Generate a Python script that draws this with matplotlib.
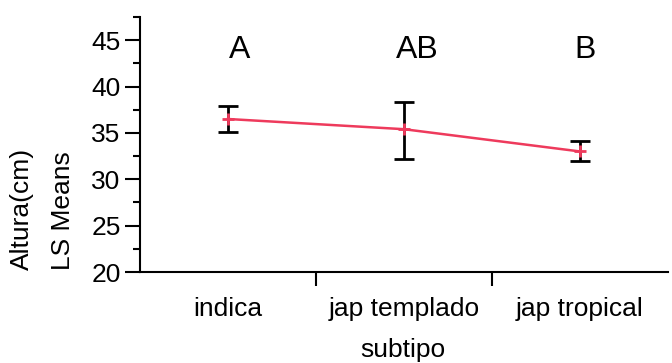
import matplotlib
matplotlib.use("Agg")
import matplotlib.pyplot as plt
from matplotlib.ticker import MultipleLocator

plt.rcParams['font.family'] = ['Liberation Sans', 'DejaVu Sans']

# data
subtipos = ["indica", "jap templado", "jap tropical"]
means = [36.5, 35.4, 33.0]
upper = [37.9, 38.35, 34.1]
lower = [35.1, 32.2, 32.0]
letters = ["A", "AB", "B"]
y_ticks = [20, 25, 30, 35, 40, 45]

xpos = [i + 0.5 for i in range(len(subtipos))]
err_lo = [m - l for m, l in zip(means, lower)]
err_hi = [u - m for m, u in zip(means, upper)]

fig = plt.figure(figsize=(6.72, 3.63), dpi=100)
ax = fig.add_axes([140 / 672, 91 / 363, 528 / 672, 255 / 363])

ax.errorbar(xpos, means, yerr=[err_lo, err_hi], fmt='none', ecolor='black',
            elinewidth=2, capsize=7, capthick=2, zorder=2)
ax.plot(xpos, means, color='#ee3a5c', lw=1.8, marker='+', ms=9, mew=2, zorder=3)

# letters of the mean comparison
letter_x = [0.565, 1.575, 2.53]
for lx, t in zip(letter_x, letters):
    ax.text(lx, 43.9, t, ha='center', va='center', fontsize=23)

ax.set_xlim(0, 3)
ax.set_ylim(20, 47.5)
ax.set_xticks([1, 2])
ax.set_xticklabels([])
ax.set_xticks(xpos, minor=True)
ax.set_xticklabels(subtipos, minor=True, fontsize=19)
ax.tick_params(axis='x', which='minor', length=0, pad=18)
ax.tick_params(axis='x', which='major', length=10, width=1.5, direction='out')

ax.set_yticks(y_ticks)
ax.yaxis.set_minor_locator(MultipleLocator(2.5))
ax.tick_params(axis='y', which='major', length=11, width=1.5, labelsize=19, pad=3)
ax.tick_params(axis='y', which='minor', length=5, width=1.5)

for s in ['top', 'right']:
    ax.spines[s].set_visible(False)
for s in ['left', 'bottom']:
    ax.spines[s].set_linewidth(1.5)

fig.text(403 / 672, 1 - 350 / 363, "subtipo", ha='center', va='center', fontsize=19)
fig.text(22 / 672, 1 - 270 / 363, "Altura(cm)", rotation=90, ha='center', va='bottom', fontsize=19)
fig.text(63 / 672, 1 - 270 / 363, "LS Means", rotation=90, ha='center', va='bottom', fontsize=19)

fig.savefig("out.png", dpi=100)
